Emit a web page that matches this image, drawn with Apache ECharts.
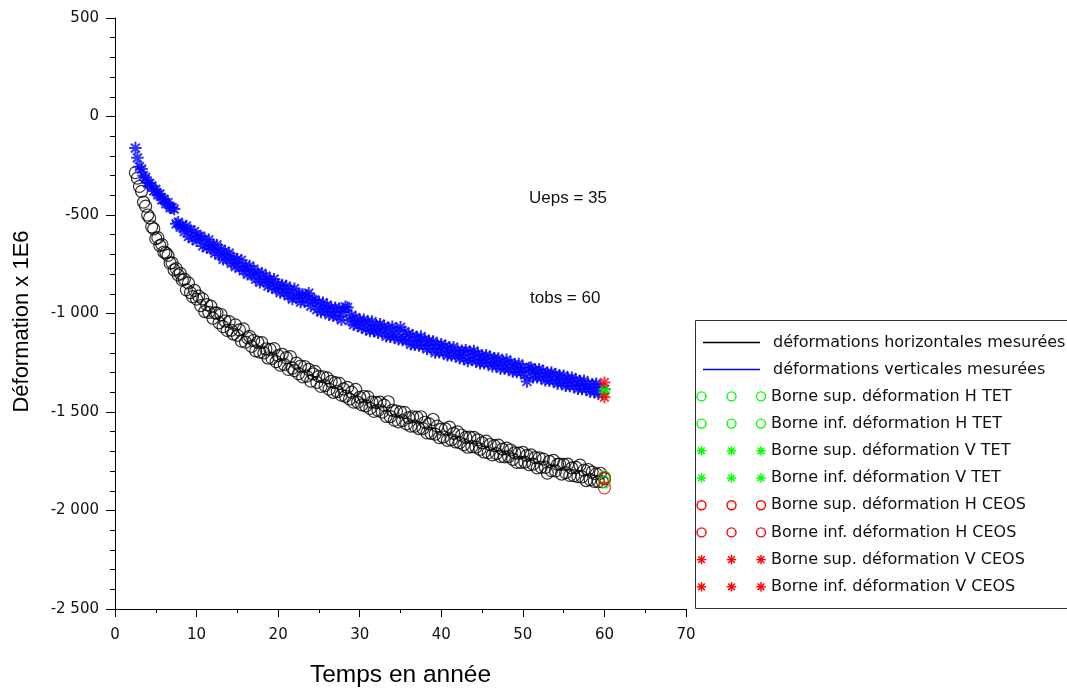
<!DOCTYPE html>
<html><head><meta charset="utf-8">
<script src="https://cdn.jsdelivr.net/npm/echarts@6/dist/echarts.min.js"></script>
<style>html,body{margin:0;padding:0;background:#fff}#main{width:1067px;height:689px}</style>
</head><body><div id="main"></div>
<script>
// Time (years)
const times = [
2.5,2.75,3,3.25,3.5,3.75,4,4.25,
4.5,4.75,5,5.25,5.5,5.75,6,6.25,
6.5,6.75,7,7.25,7.5,7.75,8,8.25,
8.5,8.75,9,9.25,9.5,9.75,10,10.25,
10.5,10.75,11,11.25,11.5,11.75,12,12.25,
12.5,12.75,13,13.25,13.5,13.75,14,14.25,
14.5,14.75,15,15.25,15.5,15.75,16,16.25,
16.5,16.75,17,17.25,17.5,17.75,18,18.25,
18.5,18.75,19,19.25,19.5,19.75,20,20.25,
20.5,20.75,21,21.25,21.5,21.75,22,22.25,
22.5,22.75,23,23.25,23.5,23.75,24,24.25,
24.5,24.75,25,25.25,25.5,25.75,26,26.25,
26.5,26.75,27,27.25,27.5,27.75,28,28.25,
28.5,28.75,29,29.25,29.5,29.75,30,30.25,
30.5,30.75,31,31.25,31.5,31.75,32,32.25,
32.5,32.75,33,33.25,33.5,33.75,34,34.25,
34.5,34.75,35,35.25,35.5,35.75,36,36.25,
36.5,36.75,37,37.25,37.5,37.75,38,38.25,
38.5,38.75,39,39.25,39.5,39.75,40,40.25,
40.5,40.75,41,41.25,41.5,41.75,42,42.25,
42.5,42.75,43,43.25,43.5,43.75,44,44.25,
44.5,44.75,45,45.25,45.5,45.75,46,46.25,
46.5,46.75,47,47.25,47.5,47.75,48,48.25,
48.5,48.75,49,49.25,49.5,49.75,50,50.25,
50.5,50.75,51,51.25,51.5,51.75,52,52.25,
52.5,52.75,53,53.25,53.5,53.75,54,54.25,
54.5,54.75,55,55.25,55.5,55.75,56,56.25,
56.5,56.75,57,57.25,57.5,57.75,58,58.25,
58.5,58.75,59,59.25,59.5,59.75,60];
// Measured horizontal deformation (x1E6)
const horizDef = [
-285,-313,-355,-380,-435,-455,-500,-515,
-560,-570,-620,-615,-655,-650,-688,-693,
-705,-744,-743,-779,-772,-804,-796,-831,
-826,-880,-845,-894,-914,-883,-927,-912,
-960,-926,-990,-955,-994,-963,-1024,-997,
-998,-1047,-1005,-1067,-1038,-1086,-1041,-1085,
-1104,-1058,-1111,-1083,-1140,-1078,-1145,-1123,
-1116,-1167,-1137,-1190,-1146,-1196,-1148,-1200,
-1180,-1226,-1182,-1228,-1178,-1244,-1214,-1262,
-1207,-1259,-1224,-1284,-1219,-1277,-1290,-1252,
-1305,-1267,-1322,-1269,-1318,-1284,-1343,-1306,
-1294,-1350,-1319,-1370,-1321,-1366,-1327,-1384,
-1345,-1400,-1351,-1396,-1355,-1414,-1383,-1420,
-1375,-1434,-1399,-1450,-1385,-1450,-1425,-1464,
-1420,-1469,-1423,-1482,-1450,-1497,-1451,-1492,
-1450,-1501,-1465,-1522,-1448,-1523,-1491,-1541,
-1495,-1550,-1500,-1544,-1502,-1560,-1528,-1572,
-1524,-1572,-1526,-1584,-1524,-1584,-1552,-1606,
-1560,-1608,-1538,-1612,-1572,-1630,-1587,-1627,
-1586,-1644,-1577,-1641,-1608,-1652,-1601,-1655,
-1618,-1666,-1629,-1679,-1628,-1676,-1629,-1678,
-1641,-1689,-1656,-1703,-1648,-1706,-1665,-1718,
-1671,-1711,-1668,-1725,-1688,-1728,-1683,-1726,
-1693,-1740,-1707,-1756,-1709,-1756,-1705,-1754,
-1720,-1767,-1718,-1765,-1732,-1784,-1733,-1780,
-1739,-1781,-1810,-1751,-1798,-1746,-1799,-1766,
-1764,-1815,-1766,-1808,-1765,-1822,-1784,-1823,
-1781,-1828,-1770,-1829,-1795,-1848,-1792,-1843,
-1805,-1852,-1814,-1853,-1811,-1854,-1838];
// Measured vertical deformation (x1E6)
const vertDef = [
-160,-210,-255,-267,-301,-309,-338,-340,
-352,-378,-370,-398,-394,-423,-419,-443,
-437,-463,-463,-470,-545,-537,-562,-551,
-584,-556,-609,-576,-620,-584,-631,-609,
-607,-657,-623,-665,-626,-672,-650,-693,
-652,-703,-674,-725,-684,-727,-694,-745,
-716,-762,-725,-768,-730,-784,-758,-801,
-759,-805,-775,-826,-792,-842,-796,-838,
-811,-861,-827,-869,-826,-876,-853,-894,
-855,-896,-861,-910,-879,-927,-874,-921,
-898,-942,-903,-940,-909,-897,-962,-931,
-931,-980,-944,-993,-945,-990,-958,-1006,
-971,-1011,-971,-1015,-974,-1032,-992,-966,
-970,-1035,-1009,-1057,-1021,-1061,-1033,-1072,
-1032,-1079,-1042,-1089,-1041,-1088,-1059,-1098,
-1054,-1097,-1064,-1115,-1075,-1118,-1067,-1120,
-1088,-1131,-1070,-1134,-1093,-1137,-1104,-1156,
-1111,-1159,-1122,-1162,-1117,-1165,-1132,-1180,
-1139,-1179,-1142,-1198,-1157,-1197,-1156,-1199,
-1165,-1212,-1174,-1213,-1171,-1214,-1188,-1227,
-1189,-1228,-1186,-1241,-1195,-1234,-1190,-1243,
-1205,-1252,-1214,-1253,-1212,-1254,-1221,-1268,
-1227,-1265,-1228,-1279,-1242,-1280,-1235,-1282,
-1249,-1295,-1258,-1297,-1256,-1298,-1273,-1312,
-1345,-1277,-1276,-1323,-1286,-1324,-1283,-1326,
-1293,-1339,-1302,-1341,-1300,-1342,-1309,-1356,
-1315,-1353,-1316,-1367,-1329,-1368,-1326,-1369,
-1335,-1382,-1344,-1383,-1341,-1384,-1358,-1397,
-1359,-1398,-1356,-1407,-1373,-1408,-1385];
// Bounds at t obs
const tObs = 60;
const boundNames = [
'Borne sup. déformation H TET','Borne inf. déformation H TET',
'Borne sup. déformation V TET','Borne inf. déformation V TET',
'Borne sup. déformation H CEOS','Borne inf. déformation H CEOS',
'Borne sup. déformation V CEOS','Borne inf. déformation V CEOS'];
const boundValues = [-1830,-1855,-1385,-1400,-1835,-1885,-1350,-1425];
const boundKinds = ['circle','circle','star','star','circle','circle','star','star'];
const boundColors = ['#00ff00','#00ff00','#00ff00','#00ff00','#ff0000','#ff0000','#ff0000','#ff0000'];
const lineNames = ['déformations horizontales mesurées','déformations verticales mesurées'];
const lineColors = ['#000000','#0000ff'];
const annotations = ['Ueps = 35','tobs = 60'];

const STAR = 'path://M0 8.4L20 8.4L20 11.6L0 11.6Z M8.4 0L11.6 0L11.6 20L8.4 20Z M4.03 1.77L18.23 15.97L15.97 18.23L1.77 4.03Z M15.97 1.77L18.23 4.03L4.03 18.23L1.77 15.97Z';

function fmt(v){
  const s = String(Math.abs(v)).replace(/\B(?=(\d{3})+(?!\d))/g,' ');
  return (v<0?'-':'')+s;
}
const n = Math.min(times.length, horizDef.length, vertDef.length);
const series = [
  {name: lineNames[0], type:'scatter', symbol:'circle', symbolSize:12,
   itemStyle:{color:'rgba(0,0,0,0)', borderColor:'#000', borderWidth:1.2},
   data: times.slice(0,n).map((t,i)=>[t,horizDef[i]])},
  {name: lineNames[1], type:'scatter', symbol:STAR, symbolSize:12.5,
   itemStyle:{color:'#0000ff'},
   data: times.slice(0,n).map((t,i)=>[t,vertDef[i]])}
];
boundNames.forEach((nm,i)=>{
  const isC = boundKinds[i]==='circle';
  series.push({name:nm, type:'scatter', symbol: isC?'circle':STAR, symbolSize:12,
    itemStyle: isC ? {color:'rgba(0,0,0,0)', borderColor:boundColors[i], borderWidth:1.3}
                   : {color:boundColors[i]},
    data:[[tObs, boundValues[i]]]});
});

// legend drawn with graphic elements
const g = [];
g.push({type:'rect', shape:{x:695.5,y:320.5,width:400,height:288}, style:{fill:'#fff', stroke:'#333', lineWidth:1}, z:100});
const rowY0 = 342, rowStep = 27.2;
lineNames.forEach((nm,i)=>{
  const y = Math.round(rowY0 + i*rowStep)+0.5;
  g.push({type:'line', shape:{x1:703,y1:y,x2:760,y2:y}, style:{stroke:lineColors[i], lineWidth:1.3}, z:101});
  g.push({type:'text', x:773, y:y, style:{text:nm, font:'16px "DejaVu Sans"', fill:'#111', verticalAlign:'middle'}, z:101});
});
function starEls(cx,cy,r,color){
  const d = r*0.7071;
  return [
    {type:'line', shape:{x1:cx-r,y1:cy,x2:cx+r,y2:cy}},
    {type:'line', shape:{x1:cx,y1:cy-r,x2:cx,y2:cy+r}},
    {type:'line', shape:{x1:cx-d,y1:cy-d,x2:cx+d,y2:cy+d}},
    {type:'line', shape:{x1:cx-d,y1:cy+d,x2:cx+d,y2:cy-d}}
  ].map(e=>Object.assign(e,{style:{stroke:color,lineWidth:1.5},z:101}));
}
boundNames.forEach((nm,i)=>{
  const y = rowY0 + (i+2)*rowStep;
  [701.5,731.5,761].forEach(cx=>{
    if(boundKinds[i]==='circle'){
      g.push({type:'circle', shape:{cx:cx,cy:y,r:4.5}, style:{fill:'none', stroke:boundColors[i], lineWidth:1.4}, z:101});
    } else {
      starEls(cx,y,4.7,boundColors[i]).forEach(e=>g.push(e));
    }
  });
  g.push({type:'text', x:771, y:y, style:{text:nm, font:'16px "DejaVu Sans"', fill:'#111', verticalAlign:'middle'}, z:101});
});
g.push({type:'text', x:529, y:198, style:{text:annotations[0], font:'17px "Liberation Sans"', fill:'#111', verticalAlign:'middle'}});
g.push({type:'text', x:530, y:298, style:{text:annotations[1], font:'17px "Liberation Sans"', fill:'#111', verticalAlign:'middle'}});

const chart = echarts.init(document.getElementById('main'), null, {renderer:'canvas'});
chart.setOption({
  animation:false,
  backgroundColor:'#fff',
  grid:{left:115, right:381, top:18, bottom:80, containLabel:false, outerBoundsMode:'none'},
  xAxis:{type:'value', min:0, max:70, interval:10,
    name:'Temps en année', nameLocation:'middle', nameGap:54,
    nameTextStyle:{fontSize:24.5, fontFamily:'Liberation Sans', color:'#000'},
    axisLine:{onZero:false, lineStyle:{color:'#000', width:1}},
    axisTick:{show:true, length:8, lineStyle:{color:'#000'}},
    minorTick:{show:true, splitNumber:2, length:4, lineStyle:{color:'#000'}},
    splitLine:{show:false},
    axisLabel:{fontSize:15, fontFamily:'DejaVu Sans', color:'#111', margin:19}},
  yAxis:{type:'value', min:-2500, max:500, interval:500,
    name:'Déformation x 1E6', nameLocation:'middle', nameGap:82,
    nameTextStyle:{fontSize:22, fontFamily:'Liberation Sans', color:'#000', padding:[0,16,0,0]},
    axisLine:{show:true, onZero:false, lineStyle:{color:'#000', width:1}},
    axisTick:{show:true, length:9, lineStyle:{color:'#000'}},
    minorTick:{show:true, splitNumber:5, length:5, lineStyle:{color:'#000'}},
    splitLine:{show:false},
    axisLabel:{fontSize:15, fontFamily:'DejaVu Sans', color:'#111', margin:16, formatter:fmt}},
  series: series,
  graphic: g
});
</script></body></html>
